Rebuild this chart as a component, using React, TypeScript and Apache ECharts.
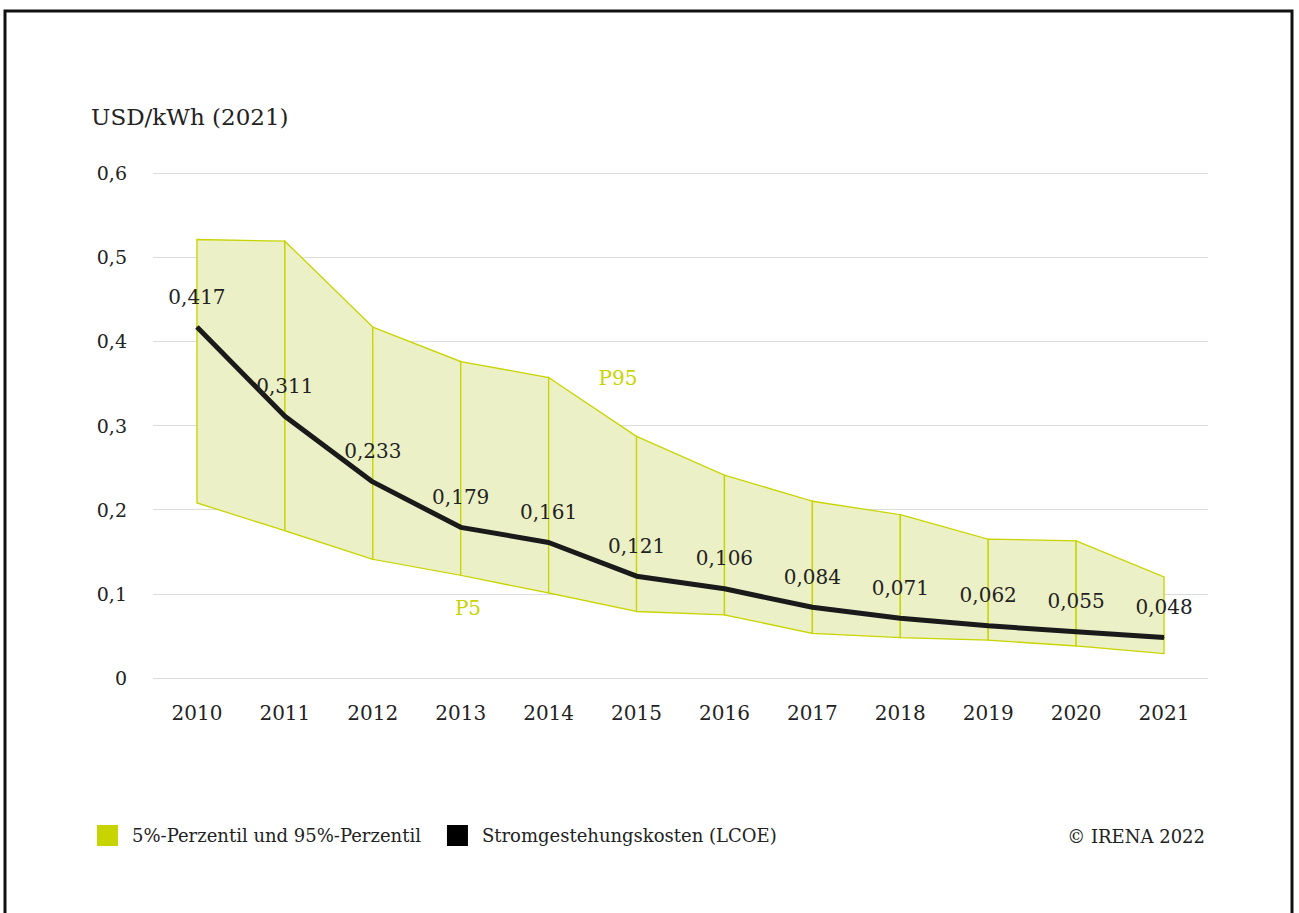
import React, { useEffect, useRef } from "react";
import * as echarts from "echarts";

const years = ["2010", "2011", "2012", "2013", "2014", "2015", "2016", "2017", "2018", "2019", "2020", "2021"];
const lcoe = [0.417, 0.311, 0.233, 0.179, 0.161, 0.121, 0.106, 0.084, 0.071, 0.062, 0.055, 0.048];
const p95 = [0.521, 0.519, 0.417, 0.376, 0.357, 0.287, 0.241, 0.21, 0.194, 0.165, 0.163, 0.12];
const p5 = [0.208, 0.175, 0.141, 0.122, 0.101, 0.079, 0.075, 0.053, 0.048, 0.045, 0.038, 0.029];
const yTicks = [0, 0.1, 0.2, 0.3, 0.4, 0.5, 0.6];

const FONT = "'DejaVu Serif', serif";
const GREEN = "#c8d400";
const FILL = "#ebf0c6";
const TEXT = "#222222";

export default function App() {
  const ref = useRef<HTMLDivElement>(null);
  useEffect(() => {
    if (!ref.current) return;
    const chart = echarts.init(ref.current, null, { renderer: "svg" });
    const fmt = (v: number, d: number) => (v === 0 ? "0" : v.toFixed(d).replace(".", ","));
    chart.setOption({
      animation: false,
      textStyle: { fontFamily: FONT },
      grid: { left: 153, right: 91, top: 173, bottom: 235, containLabel: false },
      xAxis: {
        type: "category",
        data: years,
        boundaryGap: true,
        axisLine: { show: false },
        axisTick: { show: false },
        axisLabel: { color: TEXT, fontSize: 20, margin: 25, fontFamily: FONT },
      },
      yAxis: {
        type: "value",
        min: yTicks[0],
        max: yTicks[yTicks.length - 1],
        interval: 0.1,
        axisLine: { show: false },
        axisTick: { show: false },
        splitLine: { lineStyle: { color: "#dcdcdc", width: 1 } },
        axisLabel: {
          color: TEXT,
          fontSize: 19,
          margin: 26,
          fontFamily: FONT,
          formatter: (v: number) => fmt(v, 1),
        },
      },
      legend: {
        left: 97,
        top: 825,
        padding: 0,
        itemWidth: 21,
        itemHeight: 21,
        itemGap: 26,
        icon: "rect",
        textStyle: { color: TEXT, fontSize: 18, fontFamily: FONT, padding: [0, 0, 0, 9] },
        data: [
          { name: "5%-Perzentil und 95%-Perzentil", itemStyle: { color: GREEN } },
          { name: "Stromgestehungskosten (LCOE)", itemStyle: { color: "#000000" } },
        ],
      },
      graphic: [
        {
          type: "rect",
          shape: { x: 5, y: 11, width: 1287, height: 930 },
          style: { fill: "none", stroke: "#111", lineWidth: 3 },
          silent: true,
        },
        {
          type: "text",
          x: 91,
          y: 117,
          style: { text: "USD/kWh (2021)", fill: TEXT, font: `23px ${FONT}`, textVerticalAlign: "middle" },
        },
        {
          type: "text",
          x: 1205,
          y: 836,
          style: { text: "© IRENA 2022", fill: TEXT, font: `18px ${FONT}`, textAlign: "right", textVerticalAlign: "middle" },
        },
        {
          type: "text",
          x: 618,
          y: 378,
          style: { text: "P95", fill: GREEN, font: `20px ${FONT}`, textAlign: "center", textVerticalAlign: "middle" },
        },
        {
          type: "text",
          x: 468,
          y: 608,
          style: { text: "P5", fill: GREEN, font: `20px ${FONT}`, textAlign: "center", textVerticalAlign: "middle" },
        },
      ],
      series: [
        {
          name: "5%-Perzentil und 95%-Perzentil",
          type: "custom",
          z: 1,
          itemStyle: { color: GREEN },
          data: years.map((_, i) => [i, p5[i], p95[i]]),
          renderItem: (params: any, api: any) => {
            const i = params.dataIndex;
            if (i >= years.length - 1) return null;
            const a = api.coord([i, p95[i]]);
            const b = api.coord([i + 1, p95[i + 1]]);
            const c = api.coord([i + 1, p5[i + 1]]);
            const d = api.coord([i, p5[i]]);
            return {
              type: "polygon",
              shape: { points: [a, b, c, d] },
              style: { fill: FILL, stroke: GREEN, lineWidth: 1.3 },
            };
          },
        },
        {
          name: "Stromgestehungskosten (LCOE)",
          type: "line",
          z: 3,
          data: lcoe,
          symbol: "circle",
          symbolSize: 1,
          showSymbol: true,
          lineStyle: { color: "#1a1a1a", width: 5 },
          itemStyle: { color: "#1a1a1a" },
          label: {
            show: true,
            position: "top",
            distance: 20,
            color: TEXT,
            fontSize: 20,
            fontFamily: FONT,
            formatter: (p: any) => fmt(p.value, 3),
          },
        },
      ],
    });
    return () => chart.dispose();
  }, []);
  return (
    <div
      ref={ref}
      style={{ position: "absolute", left: 0, top: 0, width: 1299, height: 913, background: "#fff" }}
    />
  );
}
